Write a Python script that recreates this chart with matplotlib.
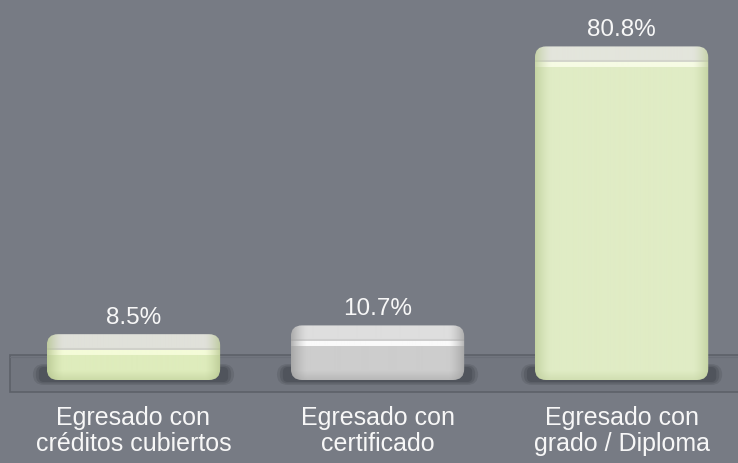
import numpy as np
import matplotlib.pyplot as plt
from matplotlib.patches import FancyBboxPatch, Rectangle
from matplotlib.colors import to_rgb

# données
categorias = ["Egresado con\ncréditos cubiertos", "Egresado con\ncertificado", "Egresado con\ngrado / Diploma"]
porcentajes = [8.5, 10.7, 80.8]
etiquetas = ["8.5%", "10.7%", "80.8%"]

# couleurs des barres : (capuchon, reflet, corps, bord)
estilos = [
    ("#e0e1da", "#f4fbd8", "#deecbc", "#b3c38c"),
    ("#dedede", "#fafafa", "#cdcdcd", "#9c9c9c"),
    ("#e3e5dc", "#f6fbe4", "#e0ecc5", "#bccc98"),
]

fondo = "#777b84"
plt.rcParams['font.family'] = ['Liberation Sans', 'DejaVu Sans']

fig = plt.figure(figsize=(7.38, 4.63), dpi=100, facecolor=fondo)
ax = fig.add_axes([0, 68 / 463, 1, 395 / 463])
ax.set_facecolor(fondo)

px_y = 3.98           # pixels par unité de y
px_x = 244.0          # pixels par unité de x
ax.set_xlim(-0.547, 2.477)
ax.set_ylim(-27 / px_y, 368 / px_y)

ancho = 0.71
base = -12 / px_y     # bas visuel des barres (épaisseur 3D)

# 1. le "sol" en perspective
ax.add_patch(Rectangle((-0.506, -24 / px_y), 3.2, 37 / px_y,
                       facecolor="#72767f", edgecolor="#5d6169", lw=1.2, zorder=1))
ax.plot([-0.506, 2.6], [11 / px_y, 11 / px_y], color="#6b6f78", lw=0.8, zorder=1)

redondeo = 11 / px_x
aspecto = px_x / px_y

for i, v in enumerate(porcentajes):
    x0 = i - ancho / 2
    cap, brillo, cuerpo, borde = [np.array(to_rgb(c)) for c in estilos[i]]

    # 2. ombre floue sous la barre
    for k, a in [(6, 0.25), (3, 0.35), (0, 0.55)]:
        sombra = FancyBboxPatch((x0 - (8 + k) / px_x, -(14 + k / 2) / px_y),
                                ancho + (16 + 2 * k) / px_x, (15 + k) / px_y,
                                boxstyle=f"round,pad=0,rounding_size={(5 + k) / px_x}",
                                mutation_aspect=aspecto, facecolor="#474b53",
                                edgecolor="none", alpha=a, zorder=2)
        ax.add_patch(sombra)

    # 3. barre arrondie avec dégradé
    alto = v - base
    caja = FancyBboxPatch((x0, base), ancho, alto,
                          boxstyle=f"round,pad=0,rounding_size={redondeo}",
                          mutation_aspect=aspecto, facecolor="none",
                          edgecolor="none", zorder=3)
    ax.add_patch(caja)

    alto_px = int(round(alto * px_y))
    ancho_px = int(round(ancho * px_x))
    yy = np.arange(alto_px)[:, None].astype(float)     # 0 = haut
    xx = np.arange(ancho_px)[None, :].astype(float)

    img = np.zeros((alto_px, ancho_px, 3))
    img[:] = cuerpo
    # capuchon clair en haut, petite ligne sombre, puis reflet
    filas = yy.ravel()
    img[filas < 14] = cap
    img[(filas >= 14) & (filas < 16)] = cap * 0.93
    img[(filas >= 16) & (filas < 21)] = brillo
    # bas un peu plus sombre
    t_bas = np.clip((yy - (alto_px - 10)) / 10, 0, 1) * 0.45
    img = img * (1 - t_bas[..., None]) + borde * t_bas[..., None]
    # bords latéraux plus sombres (effet cylindre)
    d = np.minimum(xx, ancho_px - 1 - xx)
    t = np.clip(1 - d / 16, 0, 1) ** 1.4 * 0.75
    t = t * np.ones_like(yy)
    img = img * (1 - t[..., None]) + borde * t[..., None]

    im = ax.imshow(np.clip(img, 0, 1), extent=(x0, x0 + ancho, base, v),
                   aspect='auto', interpolation='bilinear', zorder=3)
    im.set_clip_path(caja)

    # 4. étiquette de valeur
    ax.annotate(etiquetas[i], xy=(i, v), xytext=(0, 5), textcoords='offset pixels',
                ha='center', va='bottom', color="#f7f7f7", fontsize=17.5, zorder=5)

ax.set_xticks(range(len(categorias)))
ax.set_xticklabels(categorias, color="#f7f7f7", fontsize=18, linespacing=1.12)
ax.tick_params(axis='x', length=0, pad=8)
ax.set_yticks([])
for s in ax.spines.values():
    s.set_visible(False)

fig.savefig("out.png", dpi=100, facecolor=fondo)
